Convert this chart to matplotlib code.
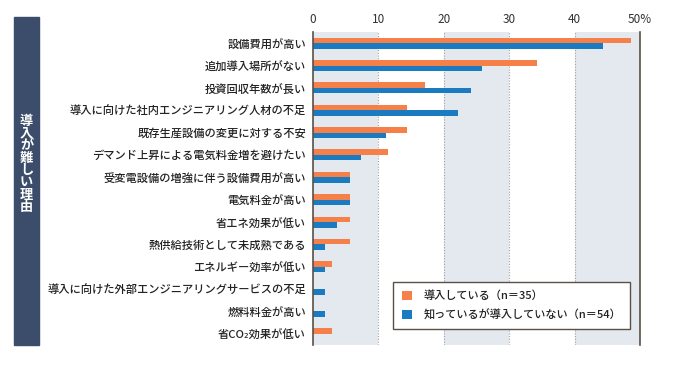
import matplotlib
matplotlib.use("Agg")
import matplotlib.pyplot as plt
from matplotlib.patches import Rectangle
import numpy as np

plt.rcParams['font.family'] = ['Noto Sans CJK JP', 'DejaVu Sans']

# data (percent)
categories = [
    "設備費用が高い",
    "追加導入場所がない",
    "投資回収年数が長い",
    "導入に向けた社内エンジニアリング人材の不足",
    "既存生産設備の変更に対する不安",
    "デマンド上昇による電気料金増を避けたい",
    "受変電設備の増強に伴う設備費用が高い",
    "電気料金が高い",
    "省エネ効果が低い",
    "熱供給技術として未成熟である",
    "エネルギー効率が低い",
    "導入に向けた外部エンジニアリングサービスの不足",
    "燃料料金が高い",
    "省CO₂効果が低い",
]
introduced = [48.6, 34.3, 17.1, 14.3, 14.3, 11.4, 5.7, 5.7, 5.7, 5.7, 2.9, 0.0, 0.0, 2.9]
not_introduced = [44.4, 25.9, 24.1, 22.2, 11.1, 7.4, 5.6, 5.6, 3.7, 1.9, 1.9, 1.9, 1.9, 0.0]
series_labels = ["導入している（n＝35）", "知っているが導入していない（n＝54）"]
ticks = [0, 10, 20, 30, 40, 50]
tick_labels = ["0", "10", "20", "30", "40", "50%"]

orange = "#f5804a"
blue = "#1b7bc0"
stripe = "#e3e9ef"
navy = "#3b4d6b"
edge = "#5a5048"

fig = plt.figure(figsize=(6.79, 3.73), dpi=100)
ax = fig.add_axes([313 / 679, 1 - 345 / 373, 327 / 679, 313 / 373])

# background stripes
for x0 in [0, 20, 40]:
    ax.axvspan(x0, x0 + 10, color=stripe, zorder=0, lw=0)
for x in [10, 20, 30, 40]:
    ax.axvline(x, color="#a0a0a0", lw=0.8, ls=(0, (1, 1.5)), zorder=1)

y = np.arange(len(categories))
h = 0.245
ax.barh(y - h / 2, introduced, height=h, color=orange, label=series_labels[0], zorder=2)
ax.barh(y + h / 2, not_introduced, height=h, color=blue, label=series_labels[1], zorder=2)

ax.set_xlim(0, 50)
ax.set_ylim(len(categories) - 0.5, -0.5)
ax.set_yticks(y)
ax.set_yticklabels(categories, fontsize=8.1, color="#222222", fontweight="medium")
ax.tick_params(axis="y", length=0, pad=5)
ax.xaxis.tick_top()
ax.set_xticks(ticks)
ax.set_xticklabels(tick_labels, fontsize=8.5, color="#333333")
ax.tick_params(axis="x", length=0, pad=4)
for s in ["top", "bottom"]:
    ax.spines[s].set_visible(False)
ax.spines["left"].set_color(edge)
ax.spines["right"].set_color(edge)
ax.spines["left"].set_linewidth(1.2)
ax.spines["right"].set_linewidth(1.2)

leg = ax.legend(loc="lower right", bbox_to_anchor=(317 / 327, 16 / 313),
                borderaxespad=0, fontsize=8, frameon=True, fancybox=False,
                handlelength=0.9, handleheight=0.9, borderpad=0.75,
                labelspacing=0.75, handletextpad=1.1, framealpha=1)
leg.get_frame().set_edgecolor(edge)
leg.get_frame().set_linewidth(1.0)
for t in leg.get_texts():
    t.set_fontweight("medium")
    t.set_color("#222222")

# left title box
fig.patches.append(Rectangle((14 / 679, 1 - 345 / 373), 25 / 679, 328 / 373,
                             transform=fig.transFigure, color=navy, zorder=0))
fig.text(26.5 / 679, 1 - 164 / 373, "\n".join("導入が難しい理由"), color="white",
         fontsize=9.5, fontweight="bold", ha="center", va="center", linespacing=0.84)

fig.savefig("out.png", dpi=100)
